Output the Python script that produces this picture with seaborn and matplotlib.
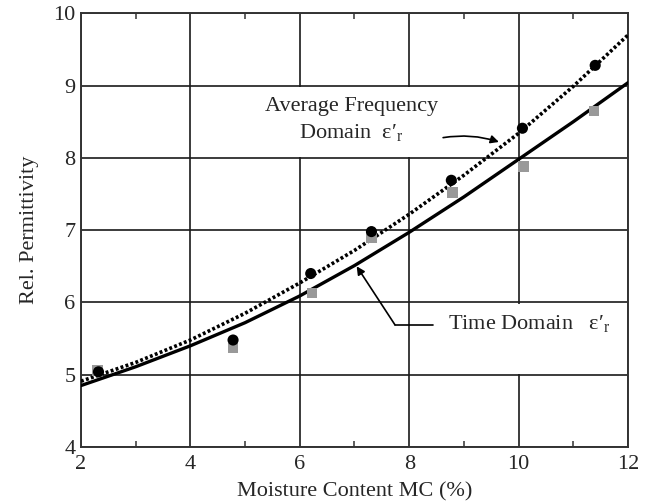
import numpy as np
import pandas as pd
import matplotlib
matplotlib.use("Agg")
import matplotlib.pyplot as plt
from matplotlib.patches import Rectangle
import seaborn as sns

# Measured relative permittivity vs. moisture content
mc_freq = [2.32, 4.78, 6.2, 7.31, 8.77, 10.07, 11.4]
eps_freq = [5.04, 5.48, 6.40, 6.98, 7.69, 8.41, 9.28]
mc_time = [2.3, 4.78, 6.22, 7.31, 8.79, 10.09, 11.38]
eps_time = [5.06, 5.37, 6.13, 6.90, 7.52, 7.88, 8.65]

# Fitted trend curves
fit_mc = [2, 3, 4, 5, 6, 7, 8, 9, 10, 11, 12]
fit_freq = [4.91, 5.17, 5.48, 5.85, 6.27, 6.72, 7.22, 7.76, 8.34, 8.99, 9.70]
fit_time = [4.85, 5.11, 5.40, 5.72, 6.09, 6.51, 6.97, 7.46, 7.98, 8.50, 9.04]

x_ticks = [2, 4, 6, 8, 10, 12]
y_ticks = [4, 5, 6, 7, 8, 9, 10]

sns.set_style("white")
plt.rcParams["font.family"] = ["Liberation Serif", "DejaVu Serif"]
plt.rcParams["mathtext.fontset"] = "custom"
plt.rcParams["mathtext.rm"] = "Liberation Serif"
plt.rcParams["mathtext.it"] = "Liberation Serif:italic"

fig = plt.figure(figsize=(6.52, 5.04), dpi=100)
ax = fig.add_axes([0.1242, 0.1131, 0.8390, 0.8605])

pts_f = pd.DataFrame({"mc": mc_freq, "eps": eps_freq})
pts_t = pd.DataFrame({"mc": mc_time, "eps": eps_time})
curves = pd.DataFrame({"mc": fit_mc, "freq": fit_freq, "time": fit_time})

sns.lineplot(data=curves, x="mc", y="time", ax=ax, color="black", lw=2.4,
             zorder=3)
sns.lineplot(data=curves, x="mc", y="freq", ax=ax, color="black", lw=2.6,
             zorder=3)
dotted = ax.lines[-1]
dotted.set_linestyle((0, (0.8, 0.65)))
dotted.set_dash_capstyle("butt")

sns.scatterplot(data=pts_t, x="mc", y="eps", ax=ax, marker="s", s=55,
                color="#999999", edgecolor="none", zorder=4)
sns.scatterplot(data=pts_f, x="mc", y="eps", ax=ax, marker="o", s=64,
                color="black", edgecolor="none", zorder=5)

ax.set_xlim(2, 12)
ax.set_ylim(4, 10)
ax.set_xticks(x_ticks)
ax.set_yticks(y_ticks)
ax.set_xticks([3, 5, 7, 9, 11], minor=True)
ax.grid(True, which="major", color="#1a1a1a", lw=1.2)
ax.tick_params(axis="both", which="major", labelsize=16, length=0)
ax.tick_params(axis="x", which="major", pad=6)
ax.tick_params(axis="y", which="major", pad=4)
ax.tick_params(axis="x", which="minor", direction="in", length=4, width=1.1,
               top=True, bottom=True, color="#333333")
for s in ax.spines.values():
    s.set_color("#333333")
    s.set_linewidth(1.4)

ax.set_xlabel("Moisture Content MC (%)", fontsize=16, labelpad=6)
ax.set_ylabel("Rel. Permittivity", fontsize=16, labelpad=10)

# White label panels that hide the vertical grid lines behind the text
ax.add_patch(Rectangle((5.1, 8.015), 4.4, 0.97, facecolor="white",
                       edgecolor="none", zorder=1))
ax.add_patch(Rectangle((8.5, 5.015), 3.48, 0.97, facecolor="white",
                       edgecolor="none", zorder=1))

eps = r"$\mathrm{ε′}_{\mathrm{r}}$"
ax.text(6.94, 8.71, "Average Frequency", fontsize=16, ha="center",
        va="center", zorder=6)
ax.text(6.94, 8.35, "Domain  " + eps, fontsize=16, ha="center", va="center",
        zorder=6)
ax.annotate("", xy=(9.64, 8.22), xytext=(8.62, 8.28),
            arrowprops=dict(arrowstyle="-|>", color="black", lw=1.2,
                            mutation_scale=12, shrinkA=0, shrinkB=0,
                            connectionstyle="arc3,rad=-0.12"), zorder=6)

ax.text(8.71, 5.71, "Time Domain   " + eps, fontsize=16, ha="left",
        va="center", zorder=6)
ax.plot([8.44, 7.74], [5.69, 5.69], color="black", lw=1.2, zorder=6)
ax.annotate("", xy=(7.04, 6.50), xytext=(7.74, 5.69),
            arrowprops=dict(arrowstyle="-|>", color="black", lw=1.2,
                            mutation_scale=12, shrinkA=0, shrinkB=0),
            zorder=6)

fig.savefig("out.png", dpi=100)
